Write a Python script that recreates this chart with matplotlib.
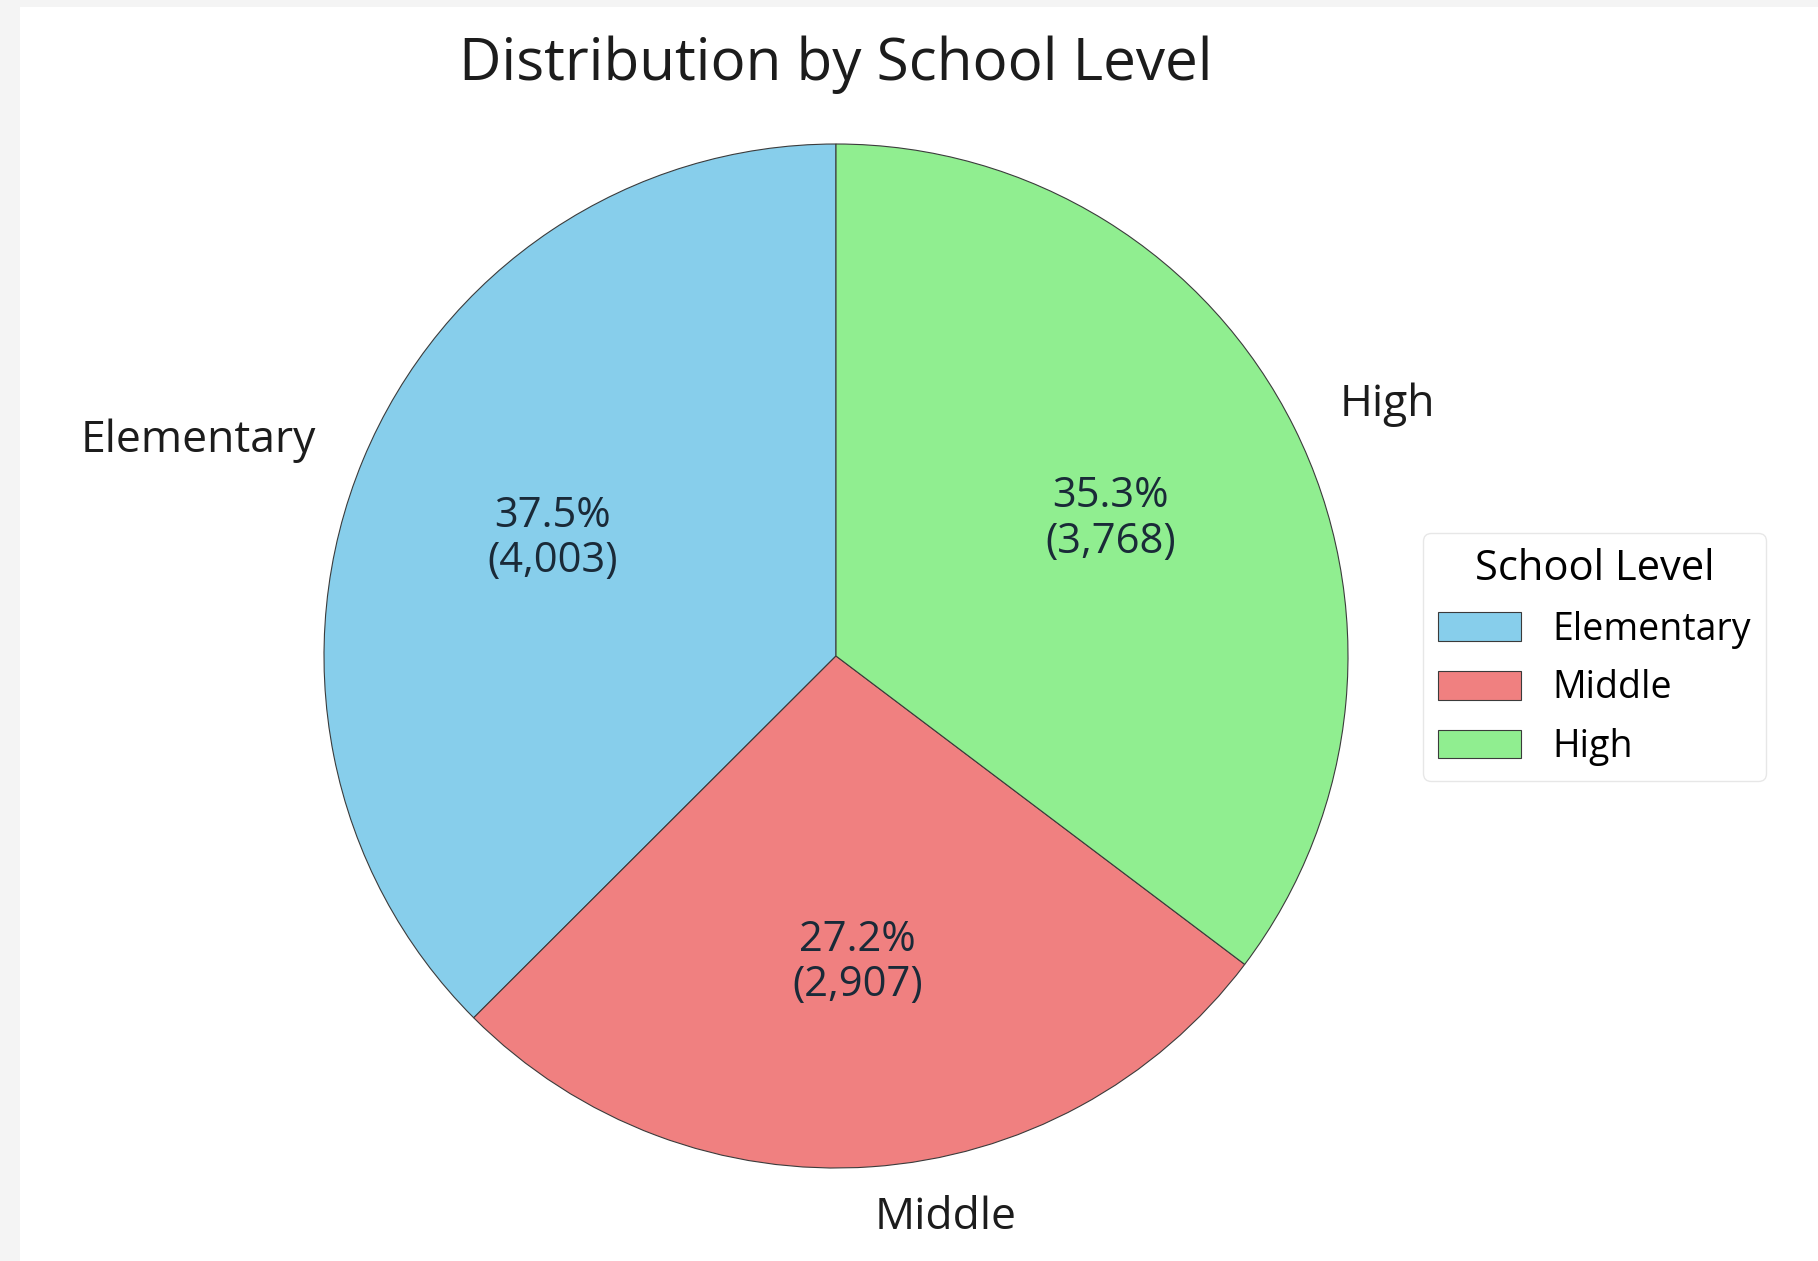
import matplotlib
matplotlib.use('Agg')
import matplotlib.pyplot as plt
from matplotlib.patches import Rectangle

# DATA
levels = ["Elementary", "Middle", "High"]
counts = [4003, 2907, 3768]
colors = ["skyblue", "lightcoral", "lightgreen"]

plt.rcParams['font.family'] = ['Open Sans', 'DejaVu Sans']

W, H = 1818, 1261
fig = plt.figure(figsize=(W / 100, H / 100), dpi=100, facecolor='#f4f4f4')
# white page over the light grey screenshot margin (left and top)
fig.patches.append(Rectangle((20 / W, 0), 1, 1 - 7 / H, transform=fig.transFigure,
                             facecolor='white', edgecolor='none', zorder=-1))

# pie centre ~ (836, 656) px, radius ~512 px
r = 512
cx, cy = 836, H - 656
ax = fig.add_axes([(cx - 1.25 * r) / W, (cy - 1.25 * r) / H, 2.5 * r / W, 2.5 * r / H])


def autopct_fmt(pct):
    total = sum(counts)
    val = int(round(pct * total / 100.0))
    return f"{pct:.1f}%\n({val:,})"


wedges, texts, autotexts = ax.pie(
    counts, labels=levels, colors=colors, startangle=90,
    autopct=autopct_fmt, pctdistance=0.6, labeldistance=1.1,
    wedgeprops=dict(edgecolor='#3b3b3b', linewidth=0.8),
    textprops=dict(fontsize=32, color='#1c1c1c'))
for t in autotexts:
    t.set_fontsize(30)
    t.set_color('#1a2a38')
    t.set_linespacing(1.1)
ax.set_xlim(-1.25, 1.25)
ax.set_ylim(-1.25, 1.25)

fig.text(cx / W, 1 - 80 / H, "Distribution by School Level", ha='center',
         va='baseline', fontsize=42, color='#1c1c1c')

leg = ax.legend(wedges, levels, title="School Level", loc='upper left',
                bbox_to_anchor=(1423 / W, 1 - 533 / H), bbox_transform=fig.transFigure,
                borderaxespad=0, fontsize=27, title_fontsize=30,
                handlelength=2.2, handleheight=0.8, handletextpad=0.85,
                labelspacing=0.55, frameon=True)
leg.get_frame().set_edgecolor('#e2e2e2')
leg.get_frame().set_linewidth(1)

plt.savefig("out.png", dpi=100)
